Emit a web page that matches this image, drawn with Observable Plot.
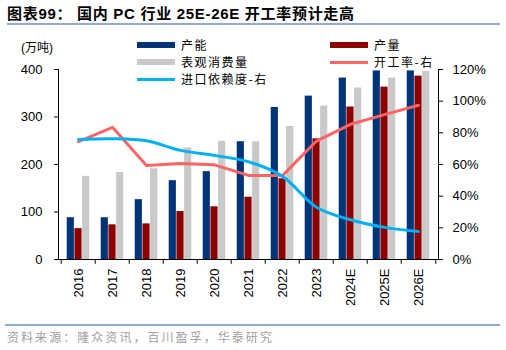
<!DOCTYPE html>
<html><head><meta charset="utf-8">
<script src="https://cdn.jsdelivr.net/npm/d3@7"></script>
<script src="https://cdn.jsdelivr.net/npm/@observablehq/plot@0.6"></script>
<style>
body{margin:0;background:#fff;}
#wrap{position:relative;width:506px;height:350px;overflow:hidden;font-family:"Liberation Sans","Noto Sans CJK SC",sans-serif;}
#wrap svg{position:absolute;left:0;top:0;}
.abs{position:absolute;white-space:nowrap;}
#title{left:7px;top:4px;font-size:15px;font-weight:bold;line-height:20px;color:#000;letter-spacing:0.7px;}
.hr{position:absolute;background:#8eaad6;}
#source{left:7px;top:329px;font-size:12px;line-height:16px;color:#a0a0a0;letter-spacing:2.05px;font-family:"Noto Sans CJK SC",sans-serif;}
#unit{left:21px;top:40px;font-size:12px;line-height:16px;font-family:"Liberation Sans","Noto Sans CJK SC",sans-serif;}
.lg{position:absolute;font-size:12px;line-height:16px;letter-spacing:1.5px;font-family:"Noto Sans CJK SC",sans-serif;white-space:nowrap;}
.sw{position:absolute;}
</style></head>
<body><div id="wrap">
<div id="title" class="abs">图表99： 国内 PC 行业 25E-26E 开工率预计走高</div>
<div class="hr" style="left:7px;top:23px;width:493px;height:2px;"></div>
<div id="unit" class="abs">(万吨)</div>
<div class="hr" style="left:5px;top:324px;width:495px;height:1.5px;"></div>
<div id="source" class="abs">资料来源：隆众资讯，百川盈孚，华泰研究</div>
</div>
<script>
const years = ["2016","2017","2018","2019","2020","2021","2022","2023","2024E","2025E","2026E"];
const capacity    = [88, 88, 126, 166, 185, 248, 320, 344, 382, 397, 397];
const output      = [65, 73, 75, 101, 111, 131, 170, 254, 321, 363, 386];
const consumption = [175, 183, 191, 235, 249, 248, 280, 323, 361, 382, 396];
const utilization = [74.4, 83.5, 59.4, 60.6, 59.8, 53.1, 53.0, 74.8, 85.4, 91.5, 97.4];
const importDep   = [75.8, 76.3, 75.0, 68.9, 65.7, 61.7, 52.5, 33.0, 25.1, 20.3, 17.7];
const leftTicks = [0, 100, 200, 300, 400];
const rightTicks = [0, 20, 40, 60, 80, 100, 120];
const seriesNames = ["产能", "产量", "表观消费量", "开工率-右", "进口依赖度-右"];
const colors = {"产能":"#003479","产量":"#8b0000","表观消费量":"#c9c9c9","开工率-右":"#ff6464","进口依赖度-右":"#00b0f0"};

const table = years.map((y, i) => ({year: y, capacity: capacity[i], output: output[i], consumption: consumption[i], util: utilization[i], imp: importDep[i]}));
const k = 400 / 120;
const mL = 58, mR = 68, W = 506;
const bw = (W - mL - mR) / years.length;
const barW = 7.7;
const gap = (bw - 3 * barW) / 2;

const chart = Plot.plot({
  width: W, height: 350, marginTop: 69, marginBottom: 91, marginLeft: mL, marginRight: mR,
  style: {fontFamily: "Liberation Sans, Arial, sans-serif", fontSize: "13px", color: "#000", background: "transparent", overflow: "visible"},
  x: {type: "band", domain: years, padding: 0},
  y: {domain: [0, 400]},
  marks: [
    Plot.barY(table, {x: "year", y: "capacity", fill: colors["产能"], insetLeft: gap, insetRight: bw - gap - barW}),
    Plot.barY(table, {x: "year", y: "output", fill: colors["产量"], insetLeft: gap + barW, insetRight: bw - gap - 2 * barW}),
    Plot.barY(table, {x: "year", y: "consumption", fill: colors["表观消费量"], insetLeft: gap + 2 * barW, insetRight: gap}),
    Plot.lineY(table, {x: "year", y: d => d.util * k, stroke: colors["开工率-右"], strokeWidth: 3}),
    Plot.lineY(table, {x: "year", y: d => d.imp * k, stroke: colors["进口依赖度-右"], strokeWidth: 3, curve: "catmull-rom"}),
    Plot.frame({anchor: "left", stroke: "#000"}),
    Plot.frame({anchor: "right", stroke: "#000"}),
    Plot.frame({anchor: "bottom", stroke: "#000"}),
    Plot.axisY({anchor: "left", ticks: leftTicks, tickSize: 4, tickPadding: 12, label: null}),
    Plot.axisY({anchor: "right", ticks: rightTicks.map(p => p * k), tickFormat: v => Math.round(v / k) + "%", tickSize: 4, tickPadding: 10, label: null}),
    Plot.axisX({anchor: "bottom", tickSize: 0, tickRotate: -90, tickPadding: 9, label: null}),
    Plot.ruleX(years, {x: d => d, dx: -bw / 2, y1: 0, y2: -10, stroke: "#000"}),
    Plot.ruleX(years.slice(-1), {x: d => d, dx: bw / 2, y1: 0, y2: -10, stroke: "#000"})
  ]
});
const wrap = document.getElementById("wrap");
wrap.insertBefore(chart, wrap.firstChild);

// legend
const legendItems = [
  {name: "产能", type: "rect", x: 137, y: 45},
  {name: "表观消费量", type: "rect", x: 137, y: 62},
  {name: "进口依赖度-右", type: "line", x: 137, y: 79},
  {name: "产量", type: "rect", x: 330, y: 45},
  {name: "开工率-右", type: "line", x: 330, y: 62}
];
legendItems.forEach(it => {
  const sw = document.createElement("div");
  sw.className = "sw";
  const h = it.type === "rect" ? 6 : 3;
  sw.style.cssText = `left:${it.x}px;top:${it.y - h / 2}px;width:38px;height:${h}px;background:${colors[it.name]};`;
  wrap.appendChild(sw);
  const t = document.createElement("div");
  t.className = "lg";
  t.textContent = it.name;
  t.style.left = (it.x + 44) + "px";
  t.style.top = (it.y - 8.5) + "px";
  wrap.appendChild(t);
});
</script>
</body></html>
